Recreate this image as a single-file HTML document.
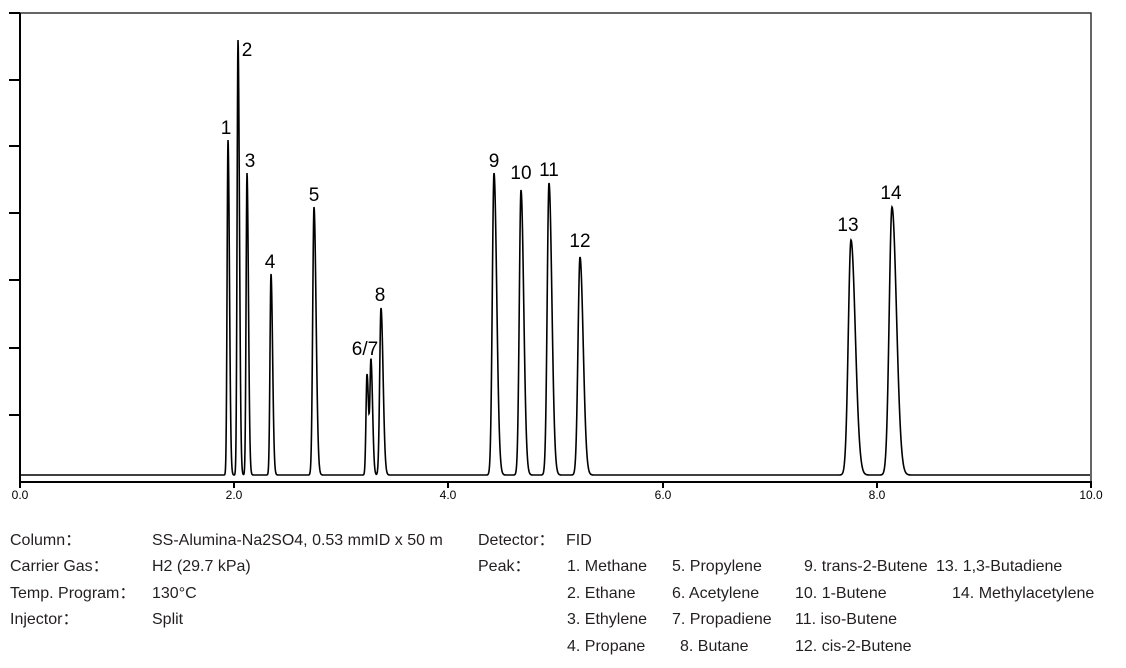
<!DOCTYPE html>
<html><head><meta charset="utf-8"><style>
html,body{margin:0;padding:0;background:#fff;}
svg{display:block;}
.t{font-family:"Liberation Sans",sans-serif;font-size:16px;fill:#231f20;}
.n{font-family:"Liberation Sans",sans-serif;font-size:19px;fill:#000;}
.a{font-family:"Liberation Sans",sans-serif;font-size:12px;fill:#000;}
</style></head><body>
<svg id="s" width="1126" height="668" xmlns="http://www.w3.org/2000/svg">
<rect x="20" y="13" width="1071" height="469" fill="none" stroke="#333" stroke-width="1.5"/>
<line x1="20" y1="13" x2="20" y2="483" stroke="#000" stroke-width="2"/>
<line x1="19" y1="482" x2="1092" y2="482" stroke="#000" stroke-width="2"/>
<g stroke="#000" stroke-width="2">
<line x1="9" y1="13" x2="20" y2="13"/><line x1="9" y1="80" x2="20" y2="80"/><line x1="9" y1="146" x2="20" y2="146"/>
<line x1="9" y1="213" x2="20" y2="213"/><line x1="9" y1="280" x2="20" y2="280"/><line x1="9" y1="348" x2="20" y2="348"/>
<line x1="9" y1="415" x2="20" y2="415"/>
<line x1="20" y1="482" x2="20" y2="488"/><line x1="234" y1="482" x2="234" y2="488"/><line x1="448" y1="482" x2="448" y2="488"/>
<line x1="663" y1="482" x2="663" y2="488"/><line x1="877" y1="482" x2="877" y2="488"/><line x1="1091" y1="482" x2="1091" y2="488"/>
</g>
<g class="a" text-anchor="middle">
<text x="20" y="499">0.0</text><text x="234" y="499">2.0</text><text x="448" y="499">4.0</text>
<text x="663" y="499">6.0</text><text x="877" y="499">8.0</text><text x="1091" y="499">10.0</text>
</g>
<path id="p" fill="none" stroke="#000" stroke-width="1.6" d=""/>
<g class="n" text-anchor="middle">
<text x="226" y="134">1</text><text x="247" y="56">2</text><text x="250" y="167">3</text><text x="270" y="268">4</text>
<text x="314" y="201">5</text><text x="365" y="355">6/7</text><text x="380" y="301">8</text>
<text x="494" y="167">9</text><text x="521" y="179">10</text><text x="549" y="176">11</text><text x="580" y="247">12</text>
<text x="848" y="231">13</text><text x="891" y="199">14</text>
</g>
<g class="t">
<text x="10" y="545">Column：</text><text x="152" y="545">SS-Alumina-Na2SO4, 0.53 mmID x 50 m</text>
<text x="10" y="571">Carrier Gas：</text><text x="152" y="571">H2 (29.7 kPa)</text>
<text x="10" y="598">Temp. Program：</text><text x="152" y="598">130°C</text>
<text x="10" y="624">Injector：</text><text x="152" y="624">Split</text>
<text x="478" y="545">Detector：</text><text x="566" y="545">FID</text>
<text x="478" y="571">Peak：</text>
<text x="567" y="571">1. Methane</text><text x="567" y="598">2. Ethane</text><text x="567" y="624">3. Ethylene</text><text x="567" y="651">4. Propane</text>
<text x="672" y="571">5. Propylene</text><text x="672" y="598">6. Acetylene</text><text x="672" y="624">7. Propadiene</text><text x="680" y="651">8. Butane</text>
<text x="804" y="571">9. trans-2-Butene</text><text x="795" y="598">10. 1-Butene</text><text x="795" y="624">11. iso-Butene</text><text x="795" y="651">12. cis-2-Butene</text>
<text x="936" y="571">13. 1,3-Butadiene</text><text x="952" y="598">14. Methylacetylene</text>
</g>
</svg>
<script>
var pk=[[228,140,0.9],[238,40,0.9],[247,173,0.9],[271,274,1.0],[314,207,1.3],[367,374,1.0],[371,363,1.0],[381,308,1.3],
[494,173,1.7],[521,190,1.7],[549,183,1.8],[580,257,2.0],[851,240,2.7],[892,207,2.8]];
var base=475,d="";
for(var x=21;x<=1090;x+=0.25){var y=0;
for(var i=0;i<pk.length;i++){var p=pk[i],h=base-p[1],s=p[2],dx=x-p[0];
var ss=dx<0?s:s*1.6;y+=h*Math.exp(-dx*dx/(2*ss*ss));}
d+=(x==21?"M":"L")+x+" "+(base-y).toFixed(1)+" ";}
document.getElementById("p").setAttribute("d",d);
</script>
</body></html>
